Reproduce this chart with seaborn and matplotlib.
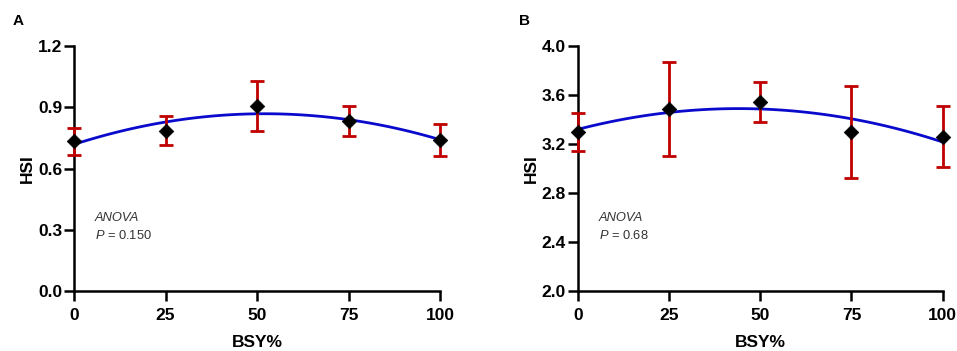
import matplotlib
matplotlib.use("Agg")
import matplotlib.pyplot as plt
import seaborn as sns
import numpy as np
import pandas as pd

# ---- data ----
bsy = [0, 25, 50, 75, 100]
hsi_a_mean = [0.733, 0.785, 0.906, 0.831, 0.739]
hsi_a_err = [0.065, 0.070, 0.124, 0.074, 0.079]
hsi_b_mean = [3.295, 3.486, 3.545, 3.298, 3.260]
hsi_b_err = [0.155, 0.385, 0.162, 0.373, 0.250]
x_ticks = [0, 25, 50, 75, 100]
a_yticks = [0.0, 0.3, 0.6, 0.9, 1.2]
b_yticks = [2.0, 2.4, 2.8, 3.2, 3.6, 4.0]
panel_labels = ["A", "B"]
p_texts = ["0.150", "0.68"]

sns.set_theme(style="ticks")
plt.rcParams['font.family'] = ['Liberation Sans', 'DejaVu Sans']
plt.rcParams['text.color'] = 'black'
plt.rcParams['axes.labelcolor'] = 'black'
plt.rcParams['xtick.color'] = 'black'
plt.rcParams['ytick.color'] = 'black'
plt.rcParams['mathtext.fontset'] = 'custom'
plt.rcParams['mathtext.it'] = 'Liberation Sans:italic'
plt.rcParams['mathtext.rm'] = 'Liberation Sans'

fig = plt.figure(figsize=(9.57, 3.51), dpi=100)
axA = fig.add_axes([74/957, 1-291/351, 366/957, 245/351])
axB = fig.add_axes([577.7/957, 1-291/351, 365/957, 245/351])

red = "#C00000"
blue = "#0A0ACD"

def draw(ax, means, errs, yticks, ptxt, ann_y):
    df = pd.DataFrame({"BSY": bsy, "HSI": means})
    sns.regplot(data=df, x="BSY", y="HSI", order=2, ci=None, scatter=False,
                truncate=True, ax=ax,
                line_kws=dict(color=blue, lw=2.0, zorder=2))
    ax.errorbar(bsy, means, yerr=errs, fmt="none", ecolor=red, elinewidth=2.0,
                capsize=5, capthick=2.0, zorder=3, clip_on=False)
    sns.scatterplot(data=df, x="BSY", y="HSI", marker="D", color="black", s=55,
                    edgecolor="black", linewidth=0.5, ax=ax, zorder=4, clip_on=False)
    ax.set_xlim(0, 100)
    ax.set_ylim(yticks[0], yticks[-1])
    ax.set_xticks(x_ticks)
    ax.set_yticks(yticks)
    ax.set_yticklabels([f"{v:.1f}" for v in yticks])
    for sp in ["top", "right"]:
        ax.spines[sp].set_visible(False)
    for sp in ["left", "bottom"]:
        ax.spines[sp].set_linewidth(1.8)
        ax.spines[sp].set_color("black")
    ax.tick_params(axis="both", direction="out", length=7, width=1.8,
                   labelsize=12.5, color="black", labelcolor="black")
    ax.tick_params(axis="x", pad=5)
    ax.tick_params(axis="y", pad=1.5)
    for t in ax.get_xticklabels() + ax.get_yticklabels():
        t.set_fontweight("bold")
    ax.set_xlabel("BSY%", fontsize=12.5, fontweight="bold", labelpad=9, color="black")
    ax.set_ylabel("HSI", fontsize=12.5, fontweight="bold", labelpad=2, color="black")
    ax.text(5.7, ann_y[0], "ANOVA", fontsize=9.3, style="italic", color="#333333",
            va="center", ha="left")
    ax.text(5.7, ann_y[1], r"$\it{P}$" + " = " + ptxt, fontsize=9.3, color="#333333",
            va="center", ha="left")

draw(axA, hsi_a_mean, hsi_a_err, a_yticks, p_texts[0], (0.357, 0.274))
draw(axB, hsi_b_mean, hsi_b_err, b_yticks, p_texts[1], (2.596, 2.457))

fig.text(18/957, 1-21/351, panel_labels[0], fontsize=11, fontweight="bold", va="center", ha="center")
fig.text(525/957, 1-21/351, panel_labels[1], fontsize=11, fontweight="bold", va="center", ha="center")

fig.savefig("out.png", dpi=100)
